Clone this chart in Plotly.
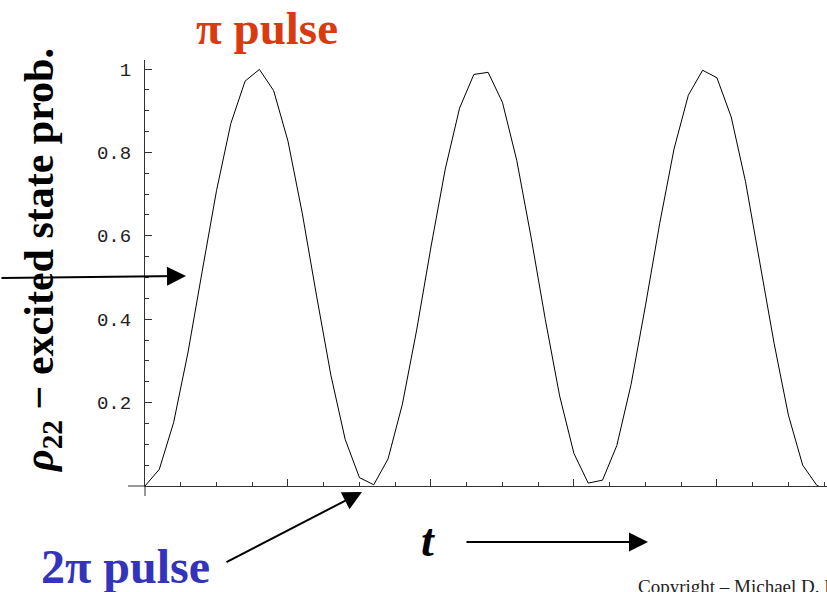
import plotly.graph_objects as go

# time samples (arbitrary units, major tick = 1 unit) and excited-state probability
t_vals = [0.0, 0.1, 0.2, 0.3, 0.4, 0.5, 0.6, 0.7, 0.8, 0.9,
          1.0, 1.1, 1.2, 1.3, 1.4, 1.5, 1.6, 1.7, 1.8, 1.9,
          2.0, 2.1, 2.2, 2.3, 2.4, 2.5, 2.6, 2.7, 2.8, 2.9,
          3.0, 3.1, 3.2, 3.3, 3.4, 3.5, 3.6, 3.7, 3.8, 3.9,
          4.0, 4.1, 4.2, 4.3, 4.4, 4.5, 4.6, 4.7, 4.712]
rho22 = [0.000, 0.040, 0.152, 0.319, 0.515, 0.708, 0.869, 0.971, 0.999, 0.948,
         0.827, 0.654, 0.456, 0.266, 0.112, 0.020, 0.003, 0.065, 0.196, 0.374,
         0.573, 0.760, 0.906, 0.987, 0.992, 0.920, 0.781, 0.597, 0.399, 0.216,
         0.078, 0.007, 0.014, 0.097, 0.244, 0.432, 0.630, 0.808, 0.937, 0.997,
         0.979, 0.885, 0.730, 0.539, 0.342, 0.170, 0.050, 0.001, 0.000]

y_tickvals = [0.2, 0.4, 0.6, 0.8, 1.0]
y_ticktext = ["0.2", "0.4", "0.6", "0.8", "1"]

W, H = 827, 592
L, R, T, B = 145, 827, 60, 486  # plot area in pixels


def px(xp):
    return (xp - L) / (R - L)


def py(yp):
    return (B - yp) / (B - T)


fig = go.Figure()
fig.add_trace(go.Scatter(x=t_vals, y=rho22, mode="lines",
                         line=dict(color="black", width=1), hoverinfo="skip",
                         showlegend=False))

axis_color = "#333333"
fig.update_layout(
    width=W, height=H,
    margin=dict(l=L, r=W - R, t=T, b=H - B),
    paper_bgcolor="white", plot_bgcolor="white",
    showlegend=False,
    xaxis=dict(range=[0, 4.77], showgrid=False, zeroline=False,
               showline=True, linecolor=axis_color, linewidth=1,
               ticks="inside", tick0=0, dtick=1, ticklen=7, tickwidth=1,
               tickcolor=axis_color, showticklabels=False,
               minor=dict(ticks="inside", tick0=0, dtick=0.25, ticklen=4,
                          tickwidth=1, tickcolor=axis_color)),
    yaxis=dict(range=[0, 1.0216], showgrid=False, zeroline=False,
               showline=True, linecolor=axis_color, linewidth=1,
               ticks="inside", tickmode="array", tickvals=y_tickvals,
               ticktext=y_ticktext, ticklen=7, tickwidth=1,
               tickcolor=axis_color, ticklabelstandoff=9,
               tickfont=dict(family="Liberation Mono, Courier New, monospace",
                             size=19, color="#222222"),
               minor=dict(ticks="inside", tickmode="linear", tick0=0, dtick=0.05,
                          ticklen=4, tickwidth=1, tickcolor=axis_color)),
)

# axis line extensions beyond the origin
fig.add_shape(type="line", xref="paper", yref="paper",
              x0=px(128), x1=0, y0=0, y1=0,
              line=dict(color=axis_color, width=1))
fig.add_shape(type="line", xref="paper", yref="paper",
              x0=0, x1=0, y0=py(496), y1=0,
              line=dict(color=axis_color, width=1))

serif = "Liberation Serif, Times New Roman, serif"

# titles / labels
fig.add_annotation(text="<b>π pulse</b>", xref="paper", yref="paper",
                   x=px(267), y=py(28), xanchor="center", yanchor="middle",
                   showarrow=False, font=dict(family=serif, size=47, color="#d93a10"))
fig.add_annotation(text="<b>2π pulse</b>", xref="paper", yref="paper",
                   x=px(125), y=py(566), xanchor="center", yanchor="middle",
                   showarrow=False, font=dict(family=serif, size=48, color="#3333bb"))
fig.add_annotation(text="<b><i>t</i></b>", xref="paper", yref="paper",
                   x=px(428), y=py(540), xanchor="center", yanchor="middle",
                   showarrow=False, font=dict(family=serif, size=46, color="black"))
fig.add_annotation(text="<b><i>ρ</i><sub>22</sub> − excited state prob.</b>",
                   xref="paper", yref="paper", x=px(42), y=py(261),
                   xanchor="center", yanchor="middle", textangle=-90,
                   showarrow=False, font=dict(family=serif, size=42, color="black"))
fig.add_annotation(text="Copyright – Michael D. Fayer", xref="paper", yref="paper",
                   x=px(636), y=py(586), xanchor="left", yanchor="middle",
                   showarrow=False, font=dict(family=serif, size=19, color="#222222"))

# arrows
for tip, tail in [((186, 276), (0, 278)), ((362, 492), (225, 563)), ((648, 542), (465, 542))]:
    fig.add_annotation(text="", xref="paper", yref="paper",
                       x=px(tip[0]), y=py(tip[1]),
                       ax=tail[0] - tip[0], ay=tail[1] - tip[1],
                       showarrow=True, arrowhead=2, arrowsize=1.9, arrowwidth=2,
                       arrowcolor="black")

fig.write_html("out.html", config={"displayModeBar": False},
               post_script="document.body.style.margin='0';document.body.style.overflow='hidden';")
